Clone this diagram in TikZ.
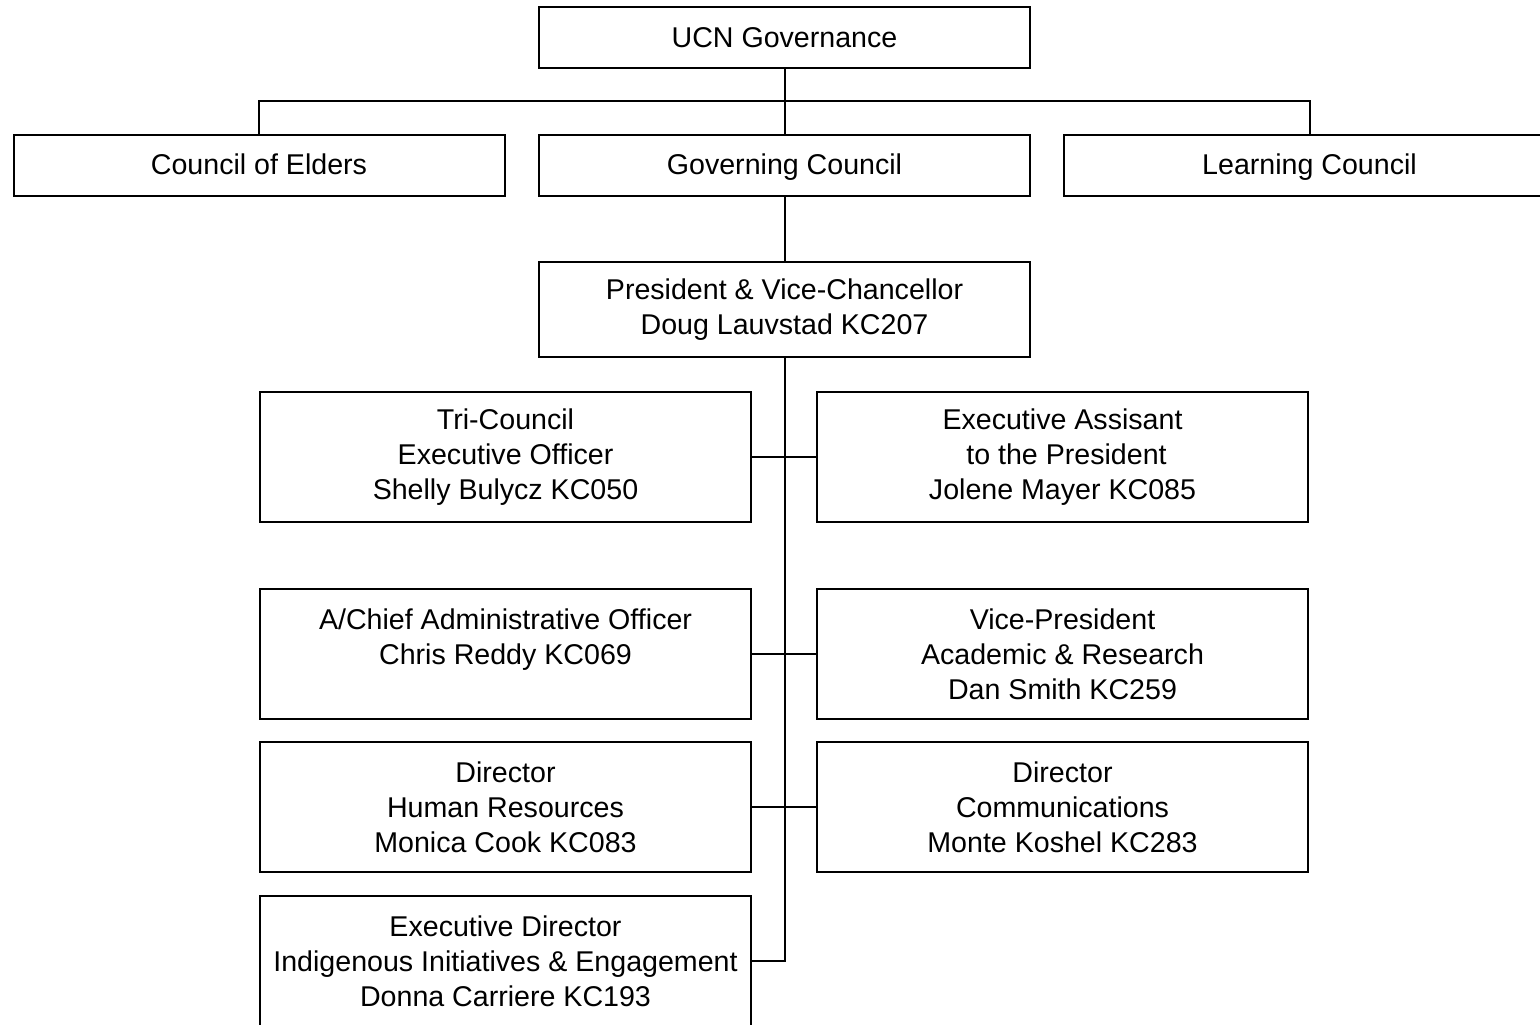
\documentclass[tikz,border=0pt]{standalone}
\usepackage{fontspec}
\setmainfont{Liberation Sans}
\begin{document}
\begin{tikzpicture}[x=0.5pt,y=-0.5pt,line width=1pt,
    unit/.style={draw,minimum width=245.5pt,minimum height=30.5pt,inner sep=0pt,
      align=center,font=\fontsize{14.3}{17.5}\selectfont},
    single/.style={unit,text height=11.5pt,text depth=2pt},
    tall/.style={unit,minimum height=47.5pt},
    post/.style={unit,minimum height=65pt}]
      \useasboundingbox (0,0) rectangle (1540,1024);
      \clip (0,0) rectangle (1540,1024);
      \draw
        (784.5,37.5) node[single] (gov){UCN Governance}
        (259,165) node[single] (elders){Council of Elders}
        (784.5,165) node[single] (govc){Governing Council}
        (1309.5,165) node[single] (learn){Learning Council}
        (784.5,309.5) node[tall] (pres){President \& Vice-Chancellor\\Doug Lauvstad KC207}
        (505.5,457) node[post] (tri){Tri-Council\\Executive Officer\\Shelly Bulycz KC050}
        (1062.5,457) node[post] (assist){Executive Assisant\\\mbox{} to the President\\Jolene Mayer KC085}
        (505.5,654) node[post] (cao){A/Chief Administrative Officer\\Chris Reddy KC069\\\mbox{}}
        (1062.5,654) node[post] (vpa){Vice-President\\Academic \& Research\\Dan Smith KC259}
        (505.5,807) node[post] (hr){Director\\Human Resources\\Monica Cook KC083}
        (1062.5,807) node[post] (comm){Director\\Communications\\Monte Koshel KC283}
        (505.5,961) node[post] (indig){Executive Director\\Indigenous Initiatives \& Engagement\\Donna Carriere KC193};
      \coordinate (bar) at (784.5,101);
      \begin{scope}[-]
        \draw (gov) to (govc);
        \draw (elders.north) |- (bar) -| (learn.north);
        \draw (govc) to (pres);
        \draw (pres.south) |- (indig.east);
        \draw (tri) to (assist);
        \draw (cao) to (vpa);
        \draw (hr) to (comm);
      \end{scope}
    \end{tikzpicture}
\end{document}
